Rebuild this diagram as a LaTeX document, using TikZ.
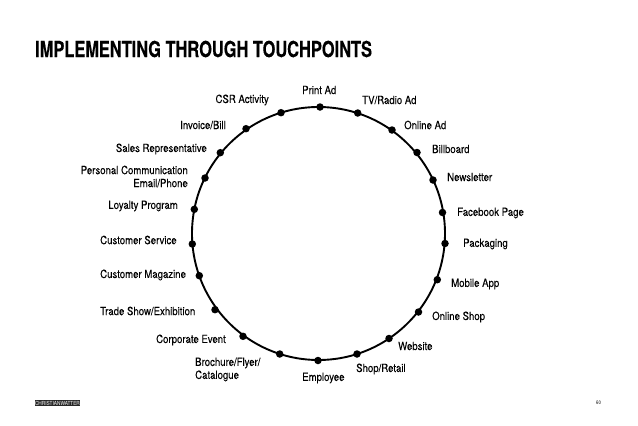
\documentclass[tikz,border=0pt]{standalone}
\usepackage{fontspec}
\setmainfont[FakeStretch=0.85]{TeX Gyre Heros}
\newfontfamily\titlefont[FakeStretch=0.745,BoldFeatures={FakeBold=0.3}]{TeX Gyre Heros}
\newfontfamily\lblfont[FakeStretch=0.85,FakeBold=0.1]{TeX Gyre Heros}
\usepackage{tikz}
\tikzset{
  dot/.style={circle,fill,inner sep=0pt,minimum size=7.5pt},
  lbl/.style={inner sep=0pt,font=\lblfont\fontsize{11.3}{13}\selectfont,align=left},
  lblr/.style={lbl,align=right},
}
\begin{document}
\begin{tikzpicture}[x=1pt,y=-1pt]
  \useasboundingbox (0,0) rectangle (638,426);
  \node[anchor=west,inner sep=0pt,font=\titlefont\fontsize{22}{24}\bfseries\selectfont] (title) at (35,49) {IMPLEMENTING THROUGH TOUCHPOINTS};
  % ring
  \coordinate (centre) at (318.5,233.5);
  \draw[line width=1.9pt] (centre) circle[radius=126.5];
  % dots clockwise from the top
  \node[dot] (print) at (320,107) {};
  \node[dot] (tv) at (357.7,113) {};
  \node[dot] (online) at (392,130) {};
  \node[dot] (billboard) at (417,152.5) {};
  \node[dot] (newsletter) at (433,180) {};
  \node[dot] (facebook) at (442.5,212.5) {};
  \node[dot] (packaging) at (445,243.5) {};
  \node[dot] (mobile) at (437.3,279.7) {};
  \node[dot] (shop) at (418.5,312) {};
  \node[dot] (website) at (389,338.5) {};
  \node[dot] (retail) at (357,354) {};
  \node[dot] (employee) at (318,360.5) {};
  \node[dot] (brochure) at (279.7,354) {};
  \node[dot] (event) at (243,336.3) {};
  \node[dot] (trade) at (215,309.7) {};
  \node[dot] (magazine) at (199.3,275.7) {};
  \node[dot] (service) at (192.3,244) {};
  \node[dot] (loyalty) at (194.3,209.3) {};
  \node[dot] (personal) at (205,178) {};
  \node[dot] (sales) at (220.3,152.7) {};
  \node[dot] (invoice) at (246,128.7) {};
  \node[dot] (csr) at (281,112.7) {};
  % labels
  \node[lbl,anchor=west] (printtxt) at (302,90) {Print Ad};
  \node[lbl,anchor=west] (tvtxt) at (362,100) {TV/Radio Ad};
  \node[lbl,anchor=west] (onlinetxt) at (404,125) {Online Ad};
  \node[lbl,anchor=west] (billboardtxt) at (432,149) {Billboard};
  \node[lbl,anchor=west] (newslettertxt) at (447,177) {Newsletter};
  \node[lbl,anchor=west] (facebooktxt) at (457,213) {Facebook Page};
  \node[lbl,anchor=west] (packagingtxt) at (463,244) {Packaging};
  \node[lbl,anchor=west] (mobiletxt) at (451,284) {Mobile App};
  \node[lbl,anchor=west] (shoptxt) at (432,317) {Online Shop};
  \node[lbl,anchor=west] (websitetxt) at (398,346) {Website};
  \node[lbl,anchor=west] (retailtxt) at (356,369) {Shop/Retail};
  \node[lbl,anchor=west] (employeetxt) at (302,378) {Employee};
  \node[lbl,anchor=west] (brochuretxt) at (195,369.5) {Brochure/Flyer/\\Catalogue};
  \node[lbl,anchor=east] (eventtxt) at (226,340) {Corporate Event};
  \node[lbl,anchor=west] (tradetxt) at (100,311) {Trade Show/Exhibition};
  \node[lbl,anchor=west] (magazinetxt) at (100,275) {Customer Magazine};
  \node[lbl,anchor=west] (servicetxt) at (100,240) {Customer Service};
  \node[lbl,anchor=east] (loyaltytxt) at (178,206) {Loyalty Program};
  \node[lblr,anchor=east] (personaltxt) at (188,176.5) {Personal Communication\\Email/Phone};
  \node[lbl,anchor=east] (salestxt) at (207,149) {Sales Representative};
  \node[lbl,anchor=east] (invoicetxt) at (226,125) {Invoice/Bill};
  \node[lbl,anchor=east] (csrtxt) at (269,100) {CSR Activity};
  % footer
  \node[fill=black!85,text=white,inner sep=0pt,minimum width=45pt,minimum height=6.6pt,font=\fontsize{5.6}{5}\selectfont] (logo) at (57.5,403) {CHRISTIANWATTER};
  \node[inner sep=0pt,font=\fontsize{5}{5}\selectfont] (page) at (598.5,403) {60};
\end{tikzpicture}
\end{document}
